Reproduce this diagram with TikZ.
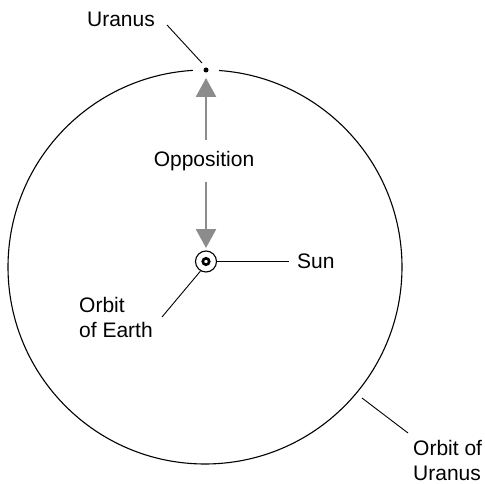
\documentclass[tikz,border=0pt]{standalone}
\usepackage{fontspec}
\setmainfont{Liberation Sans}
\usetikzlibrary{arrows.meta}
\definecolor{arrowgray}{HTML}{8C8C8C}
\begin{document}
\begin{tikzpicture}[x=1pt,y=-1pt,
  lbl/.style={inner sep=0pt, font=\fontsize{21}{25.5}\selectfont},
  mlbl/.style={lbl, align=left, anchor=north west},
  leader/.style={line width=0.9pt},
  oppo/.style={draw=arrowgray, line width=2.7pt, -{Triangle[length=19pt,width=20pt]}, color=arrowgray}]
\useasboundingbox (0,0) rectangle (485,484);
% orbit of Uranus
\draw[line width=1.1pt] (205,267) circle[radius=197];
\fill[white] (206,70) circle[radius=13];
% Uranus
\node[circle, fill=black, inner sep=0pt, minimum size=5pt] (uranus) at (206,70) {};
\node[lbl, anchor=base east] (uranuslbl) at (155,27) {Uranus};
\coordinate (ul1) at (167,25);
\coordinate (ul2) at (202,63);
\draw[leader] (ul1) -- (ul2);
% Sun
\node[circle, draw, line width=1.1pt, inner sep=0pt, minimum size=21pt] (sun) at (206,261.5) {};
\draw[line width=2.6pt] (sun.center) circle[radius=3.2];
\node[lbl, anchor=base west] (sunlbl) at (297,269) {Sun};
\coordinate (sl) at (289,261.5);
\draw[leader] (sun.east) -- (sl);
% Orbit of Earth
\node[mlbl] (earthlbl) at (79,297) {Orbit\\of Earth};
\coordinate (el) at (162,317);
\draw[leader] (sun.240) -- (el);
% Opposition
\node[lbl, anchor=base] (opp) at (204,167) {Opposition};
\coordinate (oa1) at (206,140);
\coordinate (oa2) at (206,182);
\draw[oppo] (oa1) -- (206,78);
\draw[oppo] (oa2) -- (206,248);
% Orbit of Uranus label
\node[mlbl] (orbitlbl) at (413,440) {Orbit of\\Uranus};
\coordinate (ol1) at (362,398);
\coordinate (ol2) at (408,433);
\draw[leader] (ol1) -- (ol2);
\end{tikzpicture}
\end{document}
